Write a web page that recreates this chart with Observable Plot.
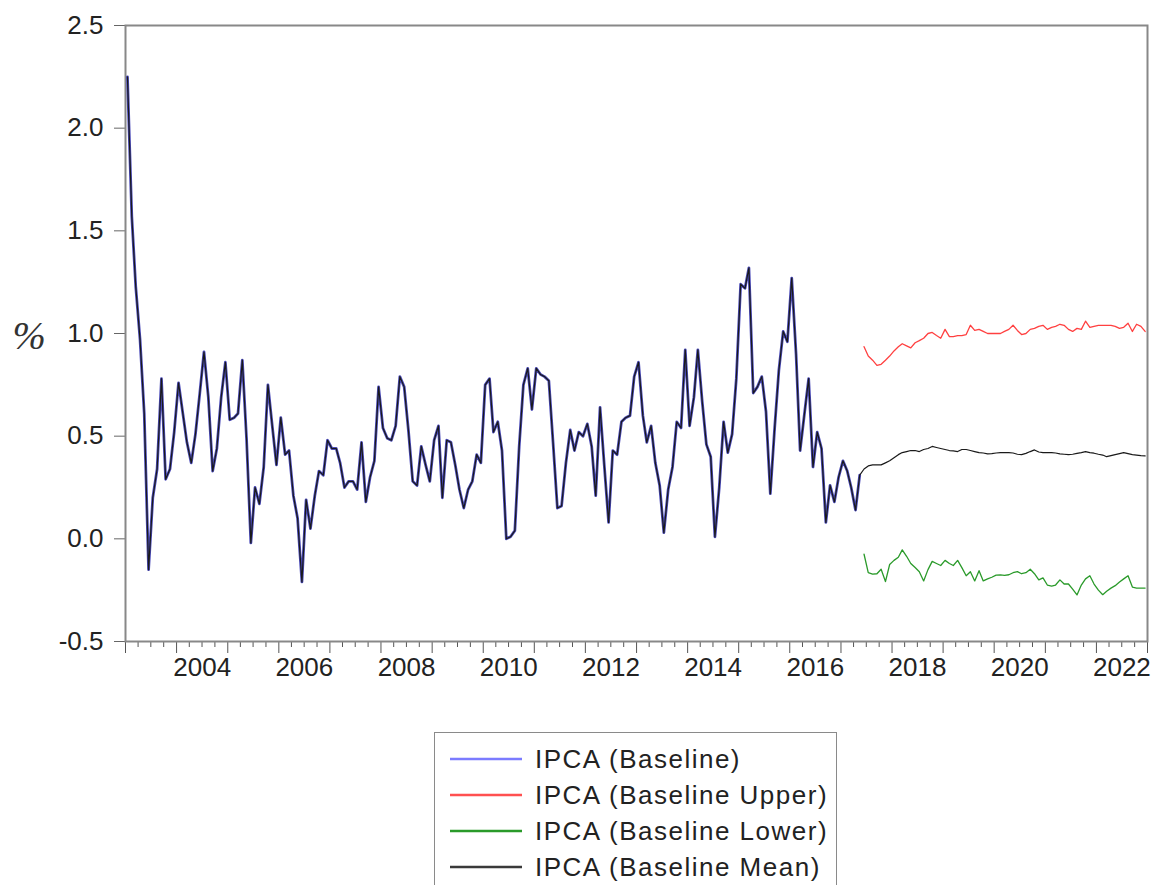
<!DOCTYPE html>
<html>
<head>
<meta charset="utf-8">
<script src="https://cdn.jsdelivr.net/npm/d3@7"></script>
<script src="https://cdn.jsdelivr.net/npm/@observablehq/plot@0.6"></script>
<style>
  body { margin: 0; background: #fff; font-family: "Liberation Sans", Arial, sans-serif; }
  #chart { position: absolute; left: 0; top: 0; }
  #legend { position: absolute; left: 434px; top: 732px; width: 403px; height: 170px;
            border: 1.5px solid #8a8a8a; box-sizing: border-box; padding-top: 8px; }
  .row { position: relative; height: 36px; line-height: 36px; }
  .row svg { position: absolute; left: 15px; top: 0; }
  .row span { position: absolute; left: 100px; top: 0; font-size: 26px; letter-spacing: 1.5px; color: #222; white-space: nowrap; }
</style>
</head>
<body>
<div id="chart"></div>
<div id="legend"></div>
<script>
// ---------- data ----------
// Historical monthly IPCA (%), January 2003 .. May 2017
const histStartYear = 2003;
const ipcaHistory = [
  2.25, 1.57, 1.23, 0.97, 0.61, -0.15, 0.20, 0.34, 0.78, 0.29, 0.34, 0.52,
  0.76, 0.61, 0.47, 0.37, 0.51, 0.71, 0.91, 0.69, 0.33, 0.44, 0.69, 0.86,
  0.58, 0.59, 0.61, 0.87, 0.49, -0.02, 0.25, 0.17, 0.35, 0.75, 0.55, 0.36,
  0.59, 0.41, 0.43, 0.21, 0.10, -0.21, 0.19, 0.05, 0.21, 0.33, 0.31, 0.48,
  0.44, 0.44, 0.37, 0.25, 0.28, 0.28, 0.24, 0.47, 0.18, 0.30, 0.38, 0.74,
  0.54, 0.49, 0.48, 0.55, 0.79, 0.74, 0.53, 0.28, 0.26, 0.45, 0.36, 0.28,
  0.48, 0.55, 0.20, 0.48, 0.47, 0.36, 0.24, 0.15, 0.24, 0.28, 0.41, 0.37,
  0.75, 0.78, 0.52, 0.57, 0.43, 0.00, 0.01, 0.04, 0.45, 0.75, 0.83, 0.63,
  0.83, 0.80, 0.79, 0.77, 0.47, 0.15, 0.16, 0.37, 0.53, 0.43, 0.52, 0.50,
  0.56, 0.45, 0.21, 0.64, 0.36, 0.08, 0.43, 0.41, 0.57, 0.59, 0.60, 0.79,
  0.86, 0.60, 0.47, 0.55, 0.37, 0.26, 0.03, 0.24, 0.35, 0.57, 0.54, 0.92,
  0.55, 0.69, 0.92, 0.67, 0.46, 0.40, 0.01, 0.25, 0.57, 0.42, 0.51, 0.78,
  1.24, 1.22, 1.32, 0.71, 0.74, 0.79, 0.62, 0.22, 0.54, 0.82, 1.01, 0.96,
  1.27, 0.90, 0.43, 0.61, 0.78, 0.35, 0.52, 0.44, 0.08, 0.26, 0.18, 0.30,
  0.38, 0.33, 0.25, 0.14, 0.31
];
// Forecasts, monthly, June 2017 .. December 2022
const fcStart = [2017, 5]; // year, month index (June)
const baselineUpper = [
  0.936, 0.89, 0.87, 0.845, 0.85, 0.87, 0.89, 0.915, 0.935, 0.95, 0.94, 0.93,
  0.955, 0.965, 0.977, 1.00, 1.005, 0.99, 0.977, 1.02, 0.985, 0.985, 0.99, 0.99,
  0.995, 1.04, 1.015, 1.02, 1.01, 1.00, 1.00, 1.00, 1.00, 1.01, 1.02, 1.04,
  1.015, 0.995, 1.00, 1.02, 1.025, 1.035, 1.04, 1.02, 1.03, 1.035, 1.045, 1.04,
  1.02, 1.01, 1.025, 1.02, 1.06, 1.03, 1.035, 1.04, 1.04, 1.04, 1.04, 1.035,
  1.025, 1.03, 1.05, 1.01, 1.045, 1.035, 1.01
];
const baselineMean = [
  0.34, 0.355, 0.36, 0.36, 0.36, 0.37, 0.38, 0.395, 0.41, 0.42, 0.425, 0.43,
  0.43, 0.425, 0.435, 0.44, 0.45, 0.445, 0.44, 0.435, 0.43, 0.428, 0.425, 0.435,
  0.435, 0.43, 0.425, 0.42, 0.418, 0.414, 0.415, 0.418, 0.42, 0.42, 0.42, 0.418,
  0.412, 0.41, 0.416, 0.425, 0.433, 0.423, 0.42, 0.42, 0.42, 0.418, 0.414, 0.412,
  0.41, 0.412, 0.416, 0.42, 0.425, 0.42, 0.417, 0.412, 0.408, 0.40, 0.405, 0.41,
  0.415, 0.42, 0.415, 0.41, 0.408, 0.405, 0.404
];
const baselineLower = [
  -0.075, -0.165, -0.172, -0.17, -0.148, -0.208, -0.125, -0.105, -0.09, -0.054, -0.085, -0.12,
  -0.14, -0.16, -0.205, -0.15, -0.11, -0.12, -0.13, -0.105, -0.12, -0.13, -0.105, -0.14,
  -0.18, -0.16, -0.205, -0.155, -0.205, -0.195, -0.187, -0.177, -0.176, -0.178, -0.175, -0.165,
  -0.16, -0.17, -0.165, -0.148, -0.17, -0.2, -0.19, -0.225, -0.23, -0.225, -0.2, -0.22,
  -0.22, -0.245, -0.273, -0.225, -0.195, -0.18, -0.22, -0.25, -0.272, -0.255, -0.24, -0.228,
  -0.21, -0.195, -0.18, -0.235, -0.24, -0.24, -0.24
];
const yTicks = [-0.5, 0.0, 0.5, 1.0, 1.5, 2.0, 2.5];
const yearLabels = [2004, 2006, 2008, 2010, 2012, 2014, 2016, 2018, 2020, 2022];
const legendNames = ["IPCA (Baseline)", "IPCA (Baseline Upper)", "IPCA (Baseline Lower)", "IPCA (Baseline Mean)"];
const legendColors = ["#7b7bff", "#ff5050", "#2a9a2a", "#3a3a3a"];

// ---------- build tables ----------
const monthDate = (y, m) => new Date(Date.UTC(y, m, 15));
const hist = ipcaHistory.map((v, i) => ({date: monthDate(histStartYear, i), value: v}));
const fc = (arr) => arr.map((v, i) => ({date: monthDate(fcStart[0], fcStart[1] + i), value: v}));
const upper = fc(baselineUpper);
const lower = fc(baselineLower);
const mean = [hist[hist.length - 1], ...fc(baselineMean)];
const meanFull = [...hist, ...mean.slice(1)];

const yearTicks = d3.range(2003, 2024).map(y => new Date(Date.UTC(y, 0, 1)));
const quarterTicks = [];
for (let y = 2003; y < 2023; y++) for (const m of [3, 6, 9]) quarterTicks.push(new Date(Date.UTC(y, m, 1)));
const labelTicks = yearLabels.map(y => new Date(Date.UTC(y, 6, 2)));

const fontFamily = '"Liberation Sans", Arial, sans-serif';

const chart = Plot.plot({
  width: 1163,
  height: 700,
  marginLeft: 125,
  marginRight: 16,
  marginTop: 25,
  marginBottom: 59,
  style: {fontFamily, background: "#fff", color: "#222"},
  x: {type: "utc", domain: [new Date(Date.UTC(2003, 0, 1)), new Date(Date.UTC(2023, 0, 1))]},
  y: {domain: [-0.5, 2.5]},
  marks: [
    Plot.axisX({ticks: quarterTicks, tickSize: 6, tickFormat: () => "", stroke: "#555", label: null}),
    Plot.axisX({ticks: yearTicks, tickSize: 12, tickFormat: () => "", stroke: "#555", label: null}),
    Plot.axisX({ticks: labelTicks, tickSize: 0, tickPadding: 16, tickFormat: d => String(d.getUTCFullYear()),
                fontSize: 26, fill: "#222", label: null}),
    Plot.axisY({ticks: yTicks, tickSize: 11, tickPadding: 11, tickFormat: d => d.toFixed(1),
                fontSize: 26, fill: "#222", stroke: "#666", label: null}),
    Plot.text(["%"], {frameAnchor: "left", dx: -113, dy: 3, textAnchor: "start", fontSize: 40, fontStyle: "italic",
                      fontFamily: '"Liberation Serif", "DejaVu Serif", serif', fill: "#333"}),
    Plot.frame({stroke: "#888", strokeWidth: 2}),
    Plot.line(upper, {x: "date", y: "value", stroke: "#ff4040", strokeWidth: 1.3}),
    Plot.line(lower, {x: "date", y: "value", stroke: "#2a9a2a", strokeWidth: 1.3}),
    Plot.line(hist, {x: "date", y: "value", stroke: "#4a4ab8", strokeWidth: 2.8}),
    Plot.line(meanFull, {x: "date", y: "value", stroke: "#1a1a1a", strokeWidth: 1.2})
  ]
});
document.getElementById("chart").appendChild(chart);

// ---------- legend ----------
const legend = document.getElementById("legend");
legendNames.forEach((name, i) => {
  const row = document.createElement("div");
  row.className = "row";
  row.innerHTML = `<svg width="75" height="36"><line x1="0" x2="72" y1="18" y2="18" stroke="${legendColors[i]}" stroke-width="2.4"/></svg><span>${name}</span>`;
  legend.appendChild(row);
});
</script>
</body>
</html>
